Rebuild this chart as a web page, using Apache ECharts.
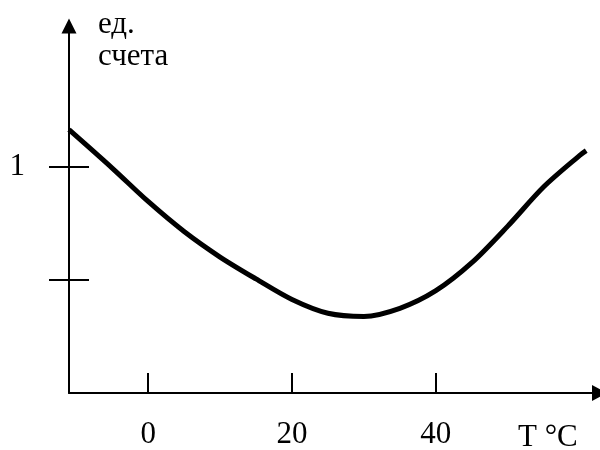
<!DOCTYPE html>
<html>
<head>
<meta charset="utf-8">
<script src="https://cdn.jsdelivr.net/npm/echarts@6/dist/echarts.min.js"></script>
<style>html,body{margin:0;padding:0;background:#fff}#c{width:600px;height:450px}</style>
</head>
<body>
<div id="c"></div>
<script>
// Data
const temps  = [-11, -5, 0, 5, 10, 15, 20, 25, 30, 35, 40, 45, 50, 55, 60, 60.9];
const counts = [1.166, 0.996, 0.848, 0.715, 0.602, 0.505, 0.414, 0.353, 0.339, 0.375, 0.453, 0.577, 0.739, 0.913, 1.052, 1.073];
const xTicks = [0, 20, 40];
const yTicks = [0.5, 1];
const yLabels = [1];
const yName = 'ед.\nсчета';
const xName = 'T °C';

const FONT = 'Liberation Serif';
const chart = echarts.init(document.getElementById('c'), null, {renderer: 'canvas'});
const axisLineStyle = {color: '#000', width: 2};
chart.setOption({
  animation: false,
  backgroundColor: '#fff',
  grid: {left: 69, right: 0.5, top: 26, bottom: 52, containLabel: false},
  xAxis: {
    type: 'value', min: -11, max: 62.75,
    axisLine: {onZero: false, lineStyle: axisLineStyle, symbol: ['none', 'triangle'], symbolSize: [16, 15]},
    axisTick: {inside: true, length: 20, customValues: xTicks, lineStyle: {color: '#000', width: 2}},
    axisLabel: {customValues: xTicks, margin: 26, color: '#000', fontFamily: FONT, fontSize: 31},
    splitLine: {show: false}
  },
  yAxis: [{
    type: 'value', min: 0, max: 1.625, position: 'left',
    axisLine: {show: true, onZero: false, lineStyle: axisLineStyle, symbol: ['none', 'triangle'], symbolSize: [15, 15]},
    axisTick: {show: true, inside: false, length: 20, customValues: yTicks, lineStyle: {color: '#000', width: 2}},
    axisLabel: {customValues: yLabels, margin: 44, color: '#000', fontFamily: FONT, fontSize: 31},
    splitLine: {show: false}
  }, {
    type: 'value', min: 0, max: 1.625, position: 'left', offset: 0,
    axisLine: {show: false, onZero: false},
    axisTick: {show: true, inside: true, length: 20, customValues: yTicks, lineStyle: {color: '#000', width: 2}},
    axisLabel: {show: false},
    splitLine: {show: false}
  }],
  graphic: [
    {type: 'text', left: 98, top: 9, style: {text: yName, font: '31px "Liberation Serif"', lineHeight: 32, fill: '#000'}},
    {type: 'text', left: 518, top: 422, style: {text: xName, font: '31px "Liberation Serif"', fill: '#000'}}
  ],
  series: [{
    type: 'line',
    data: temps.map((t, i) => [t, counts[i]]),
    smooth: 0.3,
    showSymbol: false,
    lineStyle: {color: '#000', width: 5},
    xAxisIndex: 0, yAxisIndex: 0
  }]
});
</script>
</body>
</html>
